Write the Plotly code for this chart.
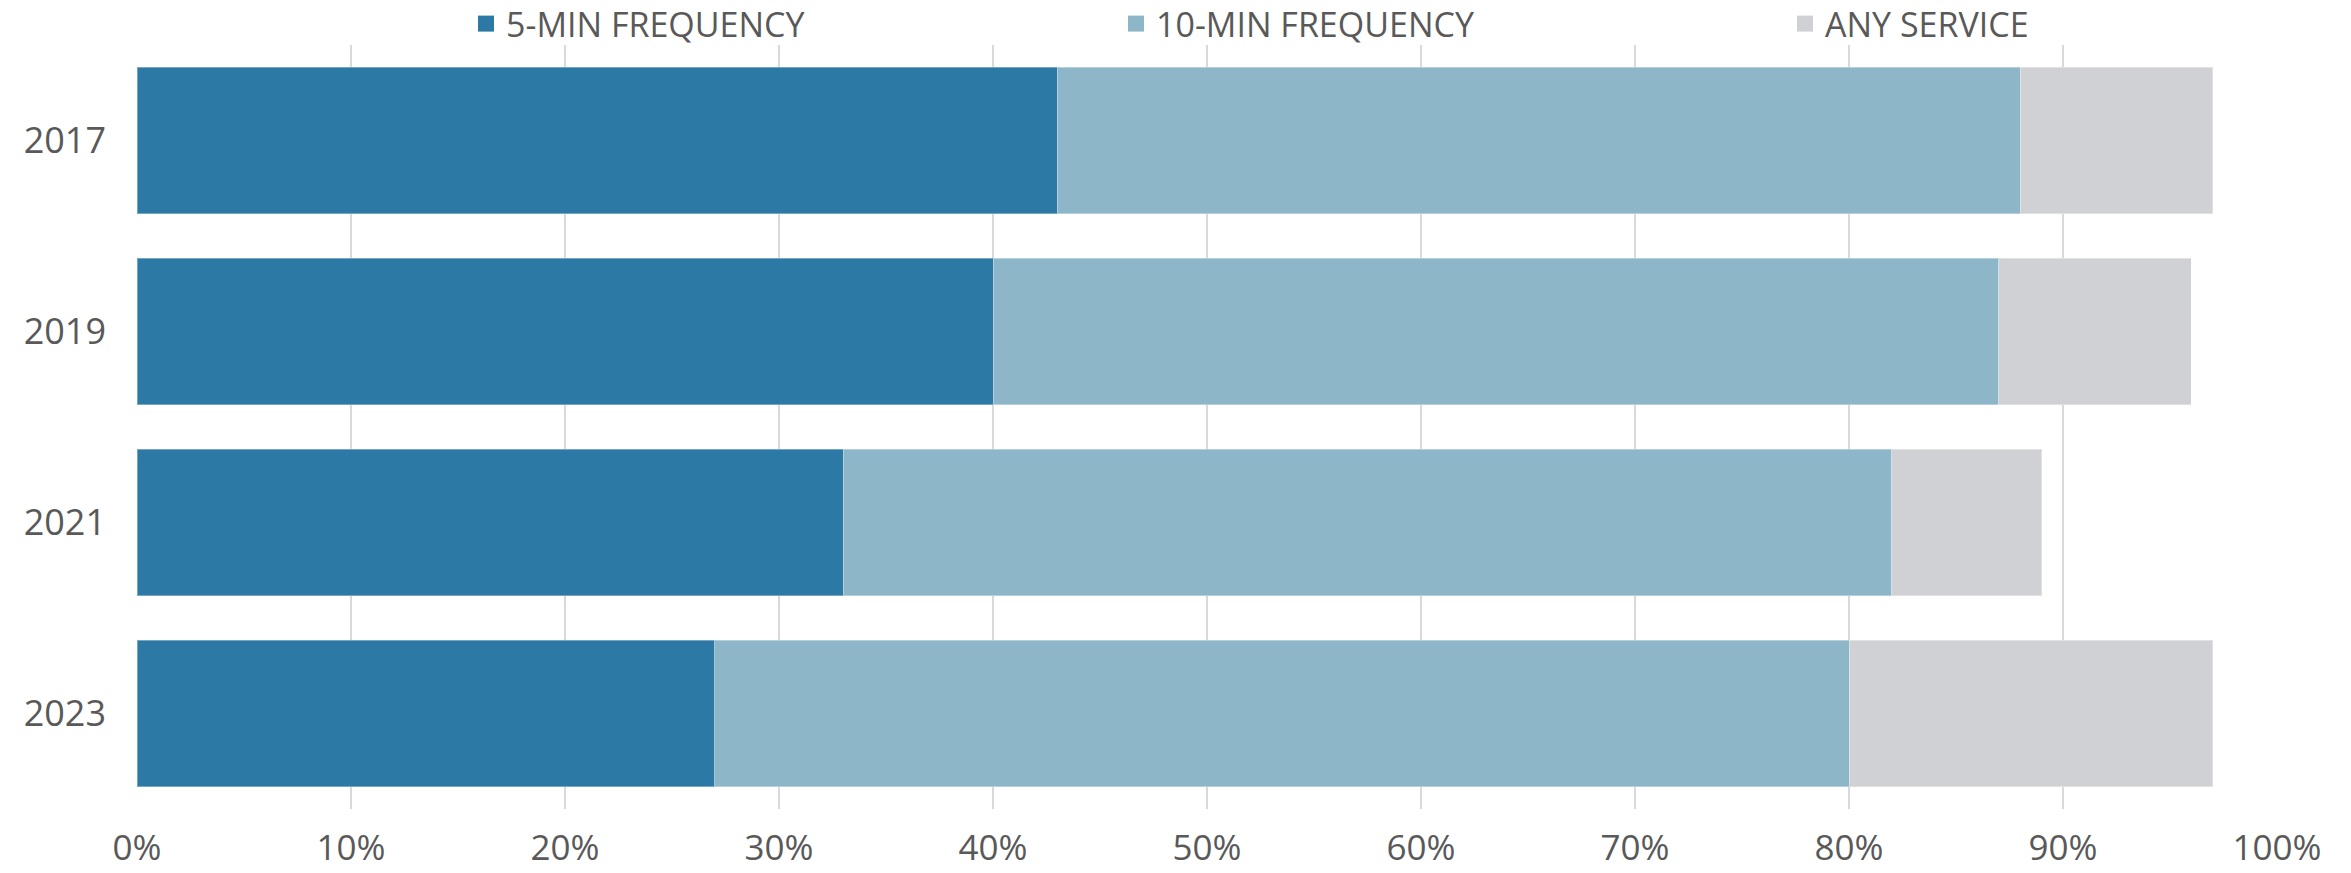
import plotly.graph_objects as go

# Share of service by frequency tier, per survey year
years = ["2017", "2019", "2021", "2023"]
five_min = [43, 40, 33, 27]
ten_min = [45, 47, 49, 53]
any_service = [9, 9, 7, 17]

series_names = ["5-MIN FREQUENCY", "10-MIN FREQUENCY", "ANY SERVICE"]
series_values = [five_min, ten_min, any_service]
series_colors = ["#2C79A5", "#8EB6C9", "#D0D1D5"]
legend_widths = [605, 624, 300]

x_ticks = [0, 10, 20, 30, 40, 50, 60, 70, 80, 90, 100]
x_tick_text = [f"{v}%" for v in x_ticks]

FONT = "Open Sans"
TEXT = "#595959"
GRID = "#D9D9D9"

fig = go.Figure()

for name, vals, color in zip(series_names, series_values, series_colors):
    fig.add_trace(go.Bar(
        y=years, x=vals, name=name, orientation="h",
        marker=dict(color=color, line=dict(color="rgba(255,255,255,0.35)", width=1)),
        showlegend=False,
    ))

# Larger square legend keys
for name, color, lw in zip(series_names, series_colors, legend_widths):
    fig.add_trace(go.Scatter(
        x=[None], y=[None], mode="markers", name=name,
        marker=dict(symbol="square", size=19, color=color),
        legendwidth=lw, showlegend=True,
    ))

fig.update_layout(
    width=2351, height=873,
    barmode="stack", bargap=0.232,
    plot_bgcolor="white", paper_bgcolor="white",
    margin=dict(l=137, r=74, t=45, b=64, autoexpand=False),
    font=dict(family=FONT, color=TEXT, size=34),
    legend=dict(
        orientation="h", xref="container", yref="container",
        x=(486 - 20) / 2351, xanchor="left",
        y=1 - 24 / 873, yanchor="middle",
        font=dict(size=34, color=TEXT), traceorder="normal",
        itemsizing="trace", bgcolor="rgba(0,0,0,0)",
    ),
    xaxis=dict(
        range=[0, 100], tickvals=x_ticks, ticktext=x_tick_text,
        showgrid=True, gridcolor=GRID, gridwidth=2,
        zeroline=False, showline=False,
        tickfont=dict(size=35, color=TEXT), ticklabelstandoff=15,
        fixedrange=True,
    ),
    yaxis=dict(
        categoryorder="array", categoryarray=years, autorange="reversed",
        showgrid=False, zeroline=False, showline=False,
        tickfont=dict(size=36, color=TEXT), ticklabelstandoff=30,
    ),
)

fig.write_html("out.html")
